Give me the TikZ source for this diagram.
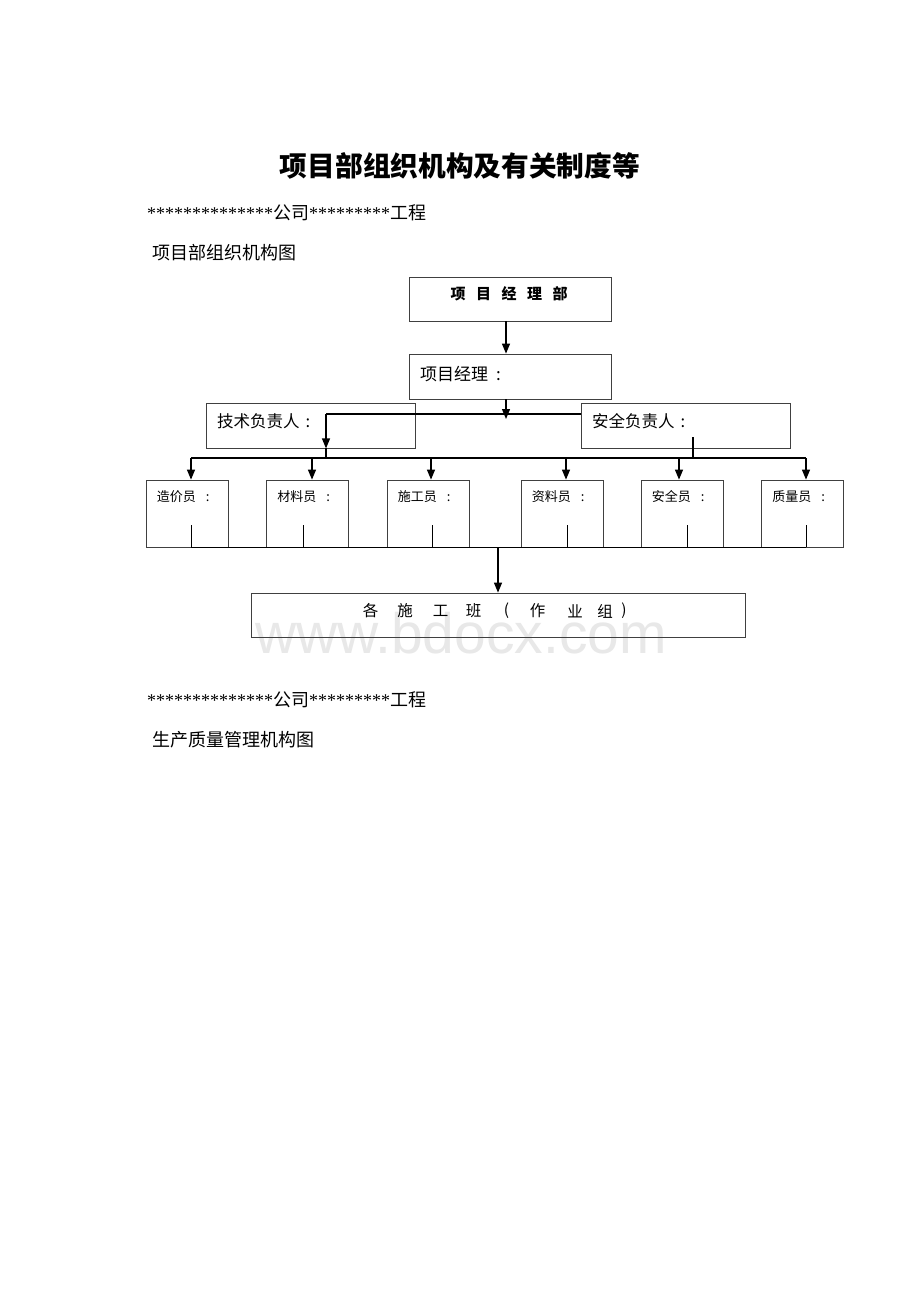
\documentclass[tikz,border=0pt]{standalone}
\usepackage{fontspec}
\setmainfont{Noto Sans CJK SC}
\newfontfamily\serf{Liberation Serif}
\newfontfamily\wmfont{Liberation Sans}
\usetikzlibrary{arrows.meta,calc}
\begin{document}
\begin{tikzpicture}[x=1pt,y=-1pt,
  box/.style={draw=black!75, line width=0.8pt, rectangle, inner sep=0pt},
  conn/.style={draw=black, line width=1.2pt},
  arr/.style={conn, -{Triangle[width=8pt,length=10pt]}},
  lbl/.style={inner sep=0pt, anchor=west, font=\fontsize{16.5}{18}\selectfont},
  slbl/.style={inner sep=0pt, anchor=west, font=\fontsize{13}{15}\selectfont},
  body/.style={inner sep=0pt, anchor=west, font=\fontsize{18}{20}\selectfont},
  glyph/.style={inner sep=0pt, font=\fontsize{15.5}{17}\selectfont},
]
\useasboundingbox (0,0) rectangle (920,1302);
\fill[white] (0,0) rectangle (920,1302);

% watermark
\node[text=black!9, font=\wmfont\fontsize{57}{57}\selectfont, inner sep=0pt] (wm) at (461,633) {www.bdocx.com};

% header texts
\node[inner sep=0pt, font=\fontsize{27.7}{30}\selectfont\bfseries] (title) at (460,166) {项目部组织机构及有关制度等};
\node[body] (co1) at (147,213) {{\serf **************}公司{\serf *********}工程};
\node[body] (t1) at (152,253) {项目部组织机构图};

% top boxes
\node[box, minimum width=202, minimum height=44] (pmd) at (510,299) {};
\node[inner sep=0pt, font=\fontsize{15}{17}\selectfont\bfseries] (pmdt) at (509,294)
  {项\hspace{10.5pt}目\hspace{10.5pt}经\hspace{10.5pt}理\hspace{10.5pt}部};

\node[box, minimum width=202, minimum height=45] (pm) at (510,376.5) {};
\node[lbl, font=\fontsize{17}{19}\selectfont] (pmt) at (420,374) {项目经理\hspace{8pt}:};

\node[box, minimum width=209, minimum height=45] (js) at (310.5,425.5) {};
\node[lbl] (jst) at (217,421.5) {技术负责人\hspace{6pt}:};

\node[box, minimum width=209, minimum height=45] (aq) at (685.5,425.5) {};
\node[lbl] (aqt) at (592,421.5) {安全负责人\hspace{6pt}:};

% staff boxes
\foreach \n/\cx/\t in {zj/187/造价员, cl/307.5/材料员, sg/428/施工员, zl/562/资料员, aqy/682/安全员, zly/802.5/质量员}{
  \node[box, minimum width=82, minimum height=67] (\n) at (\cx,513.5) {};
  \node[slbl] (\n t) at ($(\n.north west)+(11,17)$) {\t\hspace{10pt}:};
}

% bottom box
\node[box, minimum width=494, minimum height=44] (gb) at (498,615) {};
\node[glyph] (gbt1) at (370.5,611) {各};
\node[glyph] (gbt2) at (405,611) {施};
\node[glyph] (gbt3) at (440.5,611) {工};
\node[glyph] (gbt4) at (473.5,611) {班};
\node[glyph] (gbt5) at (506.5,611) {(};
\node[glyph] (gbt6) at (537.5,611) {作};
\node[glyph] (gbt7) at (575,611) {业};
\node[glyph] (gbt8) at (605,611) {组};
\node[glyph] (gbt9) at (624,611) {)};

% connectors: top
\coordinate (pmdA) at (506,321);
\draw[arr] (pmdA) -- (pmdA |- pm.north);
\coordinate (pmA) at (506,419);
\draw[arr] (pmA |- pm.south) -- (pmA);
\coordinate (hl) at (326,414);
\draw[conn] (hl) -- (hl -| aq.west);
\draw[arr] (hl) -- (hl |- js.south);
\coordinate (jsD) at (326,458);
\draw[conn] (hl |- js.south) -- (jsD);
\coordinate (aqD) at (693,437);
\draw[conn] (aqD) -- (aqD |- jsD);

% distribution line and arrows
\coordinate (zjA) at (191,458);
\coordinate (clA) at (312,458);
\coordinate (sgA) at (431,458);
\coordinate (zlA) at (566,458);
\coordinate (aqyA) at (679,458);
\coordinate (zlyA) at (806,458);
\draw[conn] (zjA) -- (zlyA);
\foreach \n in {zj, cl, sg, zl, aqy, zly}{
  \draw[arr] (\n A) -- (\n A |- \n.north);
}

% inner lines and bottom collecting line
\coordinate (zjI) at (191,525);
\coordinate (clI) at (303,525);
\coordinate (sgI) at (432,525);
\coordinate (zlI) at (567,525);
\coordinate (aqyI) at (687,525);
\coordinate (zlyI) at (806,525);
\foreach \n in {zj, cl, sg, zl, aqy, zly}{
  \draw[conn, line width=0.9pt] (\n I) -- (\n I |- \n.south);
}
\draw[conn] (zjI |- zj.south) -- (zlyI |- zly.south);

\coordinate (gbA) at (498,547);
\draw[arr] (gbA) -- (gbA |- gb.north);

% second block
\node[body] (co2) at (147,700) {{\serf **************}公司{\serf *********}工程};
\node[body] (t2) at (152,740) {生产质量管理机构图};
\end{tikzpicture}
\end{document}
